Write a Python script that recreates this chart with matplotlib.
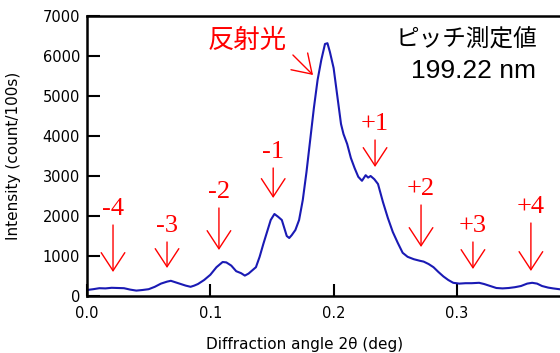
import matplotlib
matplotlib.use("Agg")
import matplotlib.pyplot as plt

# diffraction scan
angle = [0.000, 0.005, 0.010, 0.015, 0.020, 0.025, 0.030, 0.035, 0.040, 0.045,
         0.050, 0.055, 0.060, 0.065, 0.068, 0.072, 0.076, 0.080, 0.084, 0.087,
         0.090, 0.095, 0.100, 0.105, 0.110, 0.113, 0.117, 0.121, 0.125, 0.128,
         0.131, 0.134, 0.137, 0.140, 0.143, 0.146, 0.149, 0.152, 0.155, 0.158,
         0.160, 0.162, 0.164, 0.166, 0.169, 0.172, 0.175, 0.178, 0.181, 0.184,
         0.187, 0.190, 0.193, 0.195, 0.197, 0.200, 0.203, 0.206, 0.208, 0.211,
         0.214, 0.217, 0.220, 0.223, 0.226, 0.228, 0.230, 0.233, 0.236, 0.240,
         0.244, 0.248, 0.252, 0.256, 0.260, 0.265, 0.270, 0.273, 0.277, 0.281,
         0.285, 0.289, 0.293, 0.297, 0.302, 0.307, 0.312, 0.318, 0.322, 0.327,
         0.332, 0.337, 0.342, 0.347, 0.352, 0.357, 0.361, 0.365, 0.369, 0.374,
         0.378, 0.383]
intensity = [150, 170, 195, 190, 205, 200, 195, 160, 135, 150,
             170, 230, 310, 360, 380, 340, 300, 260, 230, 260,
             300, 400, 530, 720, 850, 840, 760, 620, 570, 510,
             560, 640, 720, 980, 1300, 1600, 1900, 2050, 1980, 1900,
             1700, 1500, 1450, 1520, 1650, 1900, 2400, 3100, 3900, 4700,
             5400, 5900, 6300, 6320, 6100, 5700, 5000, 4300, 4050, 3800,
             3450, 3200, 2980, 2880, 3020, 2960, 3000, 2920, 2800, 2350,
             1950, 1600, 1330, 1080, 980, 920, 880, 860, 800, 720,
             600, 490, 400, 330, 310, 320, 320, 330, 300, 250,
             200, 190, 200, 220, 250, 310, 330, 310, 250, 210,
             190, 170]

order_labels = ["-4", "-3", "-2", "-1", "+1", "+2", "+3", "+4"]
order_x = [0.0211, 0.0649, 0.107, 0.151, 0.2336, 0.2709, 0.313, 0.360]
arrow_top = [1775, 1350, 2200, 3200, 3900, 2275, 1350, 1825]
arrow_tip = [600, 700, 1150, 2450, 3225, 1225, 675, 625]

fig = plt.figure(figsize=(5.6, 3.53), dpi=100)
ax = fig.add_axes([87 / 560, 57 / 353, 473 / 560, 280 / 353])

ax.plot(angle, intensity, color="#1a1ab4", lw=1.5)

ax.set_xlim(0, 0.3836)
ax.set_ylim(0, 7000)
ax.set_xticks([0.0, 0.1, 0.2, 0.3])
ax.set_xticklabels(["0.0", "0.1", "0.2", "0.3"])
ax.set_yticks(range(0, 7001, 1000))
ax.tick_params(direction="in", length=9, width=1.5, labelsize=10.5)
ax.tick_params(axis="y", pad=5)
ax.tick_params(axis="x", pad=7)
ax.spines["right"].set_visible(False)
for s in ["left", "top", "bottom"]:
    ax.spines[s].set_linewidth(1.8)

ax.set_ylabel("Intensity (count/100s)", fontsize=11)
ax.yaxis.set_label_coords(-0.1395, 0.5)
ax.set_xlabel("Diffraction angle 2θ (deg)", fontsize=11)
ax.xaxis.set_label_coords(0.46, -0.146)

red = "#ff0000"
arrow = dict(arrowstyle="->,head_length=1.3,head_width=0.85", color=red,
             lw=1.0, shrinkA=0, shrinkB=0, mutation_scale=10)
for lab, x, y0, y1 in zip(order_labels, order_x, arrow_top, arrow_tip):
    ax.annotate("", xy=(x, y1), xytext=(x, y0), arrowprops=arrow)
    ax.text(x, y0 + 130, lab, color=red, fontsize=19, family="Liberation Serif",
            ha="center", va="bottom")

ax.annotate("", xy=(0.1833, 5525), xytext=(0.167, 6025), arrowprops=arrow)
ax.text(0.1297, 6380, "反射光", color=red, fontsize=19,
        family=["Noto Sans CJK JP", "DejaVu Sans"], ha="center", va="center")

ax.text(0.308, 6400, "ピッチ測定値", color="black", fontsize=17,
        family=["Noto Sans CJK JP", "DejaVu Sans"], ha="center", va="center")
ax.text(0.3131, 5625, "199.22 nm", color="black", fontsize=19,
        family="Liberation Sans", ha="center", va="center")

fig.savefig("out.png", dpi=100)
